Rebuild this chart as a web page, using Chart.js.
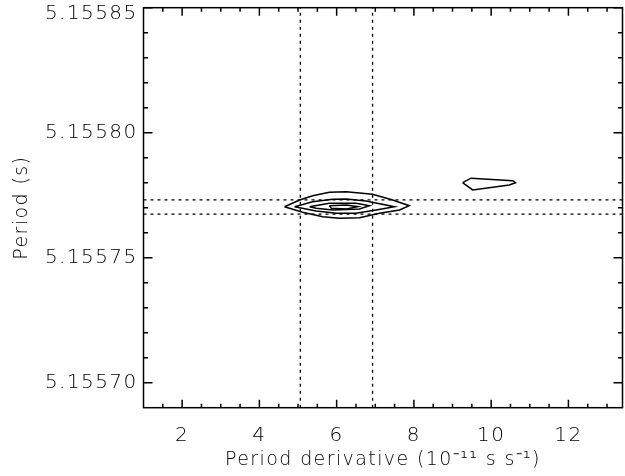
<!DOCTYPE html>
<html>
<head>
<meta charset="utf-8">
<script src="https://cdn.jsdelivr.net/npm/chart.js@4.4.1/dist/chart.umd.min.js"></script>
<style>
  html, body { margin: 0; padding: 0; background: #fff; }
  canvas { display: block; }
</style>
</head>
<body>
<canvas id="chart" width="625" height="476"></canvas>
<script>
// axis ranges
const xMin = 1.0, xMax = 13.4;
const yMin = 5.15569, yMax = 5.15585;

// tick positions (minor + major) and labelled ones
const xTicks = [1.5, 2, 2.5, 3, 3.5, 4, 4.5, 5, 5.5, 6, 6.5, 7, 7.5, 8, 8.5, 9, 9.5, 10, 10.5, 11, 11.5, 12, 12.5, 13];
const xMajorTicks = [2, 4, 6, 8, 10, 12];
const yTicks = [5.15570, 5.15571, 5.15572, 5.15573, 5.15574, 5.15575, 5.15576, 5.15577, 5.15578,
                5.15579, 5.15580, 5.15581, 5.15582, 5.15583, 5.15584, 5.15585];
const yMajorTicks = [5.15570, 5.15575, 5.15580, 5.15585];

// contour levels (outer to inner), closed polygons
const level1X = [4.65, 5.04, 5.38, 5.81, 6.25, 6.93, 7.45, 7.88, 7.63, 7.11, 6.59, 6.07, 5.64, 5.12];
const level1Y = [5.1557704, 5.1557731, 5.1557748, 5.1557762, 5.1557764, 5.1557754, 5.1557731,
                 5.1557708, 5.1557691, 5.1557678, 5.1557660, 5.1557658, 5.1557664, 5.1557682];
const level2X = [4.91, 5.38, 5.90, 6.25, 6.76, 7.50, 7.02, 6.50, 5.99, 5.47];
const level2Y = [5.1557704, 5.1557724, 5.1557734, 5.1557735, 5.1557727, 5.1557704, 5.1557691,
                 5.1557678, 5.1557678, 5.1557687];
const level3X = [5.30, 5.81, 6.50, 6.85, 6.59, 5.90, 5.47];
const level3Y = [5.1557704, 5.1557718, 5.1557718, 5.1557708, 5.1557695, 5.1557691, 5.1557698];
const level4X = [5.81, 6.25, 6.55, 6.25, 5.86];
const level4Y = [5.1557708, 5.1557711, 5.1557704, 5.1557695, 5.1557698];
// secondary island
const islandX = [9.26, 9.48, 10.56, 10.63, 10.47, 9.52];
const islandY = [5.1557800, 5.1557818, 5.1557808, 5.1557800, 5.1557791, 5.1557771];

// dotted marker lines
const pdotLines = [5.06, 6.93];
const periodLines = [5.1557731, 5.1557674];

function closed(xs, ys) {
    const pts = xs.map((v, i) => ({ x: v, y: ys[i] }));
    pts.push(pts[0]);
    return pts;
}

const contourStyle = {
    showLine: true,
    borderColor: '#000',
    borderWidth: 1.5,
    pointRadius: 0,
    fill: false,
    tension: 0,
};

const dotStyle = {
    showLine: true,
    borderColor: '#000',
    borderWidth: 1.3,
    borderDash: [3, 4],
    pointRadius: 0,
    fill: false,
};

const datasets = [
    ...pdotLines.map(v => ({ ...dotStyle, data: [{ x: v, y: yMin }, { x: v, y: yMax }] })),
    ...periodLines.map(v => ({ ...dotStyle, data: [{ x: xMin, y: v }, { x: xMax, y: v }] })),
    { ...contourStyle, data: closed(level1X, level1Y) },
    { ...contourStyle, data: closed(level2X, level2Y) },
    { ...contourStyle, data: closed(level3X, level3Y) },
    { ...contourStyle, data: closed(level4X, level4Y) },
    { ...contourStyle, data: closed(islandX, islandY) },
];

const isYMajor = v => yMajorTicks.some(m => Math.abs(m - v) < 1e-9);
const isYTop = v => Math.abs(v - yMax) < 1e-9;

// frame with inward ticks on all four sides
const frameTicks = {
    id: 'frameTicks',
    beforeDraw(chart) {
        chart.ctx.letterSpacing = '1.4px';
    },
    afterDatasetsDraw(chart) {
        const { ctx, chartArea: a, scales: { x, y } } = chart;
        ctx.save();
        ctx.strokeStyle = '#000';
        ctx.lineWidth = 1.5;
        ctx.beginPath();
        x.ticks.forEach(t => {
            const px = x.getPixelForValue(t.value);
            const len = xMajorTicks.includes(t.value) ? 8 : 4;
            ctx.moveTo(px, a.bottom); ctx.lineTo(px, a.bottom - len);
            ctx.moveTo(px, a.top); ctx.lineTo(px, a.top + len);
        });
        y.ticks.forEach(t => {
            const py = y.getPixelForValue(t.value);
            const len = isYMajor(t.value) ? 9 : 4.5;
            ctx.moveTo(a.left, py); ctx.lineTo(a.left + len, py);
            ctx.moveTo(a.right, py); ctx.lineTo(a.right - len, py);
        });
        ctx.stroke();
        ctx.strokeRect(a.left, a.top, a.right - a.left, a.bottom - a.top);
        ctx.restore();
    }
};

const tickFont = { family: 'DejaVu Sans', size: 20, weight: 200 };
const titleFont = { family: 'DejaVu Sans', size: 19, weight: 200 };

new Chart(document.getElementById('chart').getContext('2d'), {
    type: 'scatter',
    data: { datasets },
    options: {
        responsive: false,
        animation: false,
        layout: { padding: { top: 7.7, right: 2.5, left: 0, bottom: 0 } },
        plugins: {
            legend: { display: false },
            tooltip: { enabled: false },
        },
        scales: {
            x: {
                type: 'linear',
                min: xMin,
                max: xMax,
                grid: { display: false, drawTicks: false },
                border: { display: false },
                afterBuildTicks: s => { s.ticks = xTicks.map(v => ({ value: v })); },
                afterFit: s => { s.height = 68.3; s.paddingLeft = 0; s.paddingRight = 0; },
                ticks: {
                    autoSkip: false,
                    maxRotation: 0,
                    padding: 16,
                    color: '#000',
                    font: tickFont,
                    callback: v => xMajorTicks.includes(v) ? String(v) : '',
                },
                title: {
                    display: true,
                    text: 'Period derivative (10⁻¹¹ s s⁻¹)',
                    color: '#000',
                    font: titleFont,
                    padding: { top: 0, bottom: 5 },
                },
            },
            y: {
                type: 'linear',
                min: yMin,
                max: yMax,
                grid: { display: false, drawTicks: false },
                border: { display: false },
                afterBuildTicks: s => { s.ticks = yTicks.map(v => ({ value: v })); },
                afterFit: s => { s.width = 143.5; s.paddingTop = 0; s.paddingBottom = 0; },
                ticks: {
                    autoSkip: false,
                    padding: 6,
                    color: '#000',
                    // top label sits a little below its tick so it stays inside the canvas
                    font: ctx => (ctx.tick && isYTop(ctx.tick.value))
                        ? { ...tickFont, lineHeight: 0.65 }
                        : tickFont,
                    callback: v => {
                        if (!isYMajor(v)) return '';
                        return isYTop(v) ? ['', v.toFixed(5)] : v.toFixed(5);
                    },
                },
                title: {
                    display: true,
                    text: 'Period (s)',
                    color: '#000',
                    font: titleFont,
                    padding: { top: 11, bottom: 0 },
                },
            },
        },
    },
    plugins: [frameTicks],
});
</script>
</body>
</html>
